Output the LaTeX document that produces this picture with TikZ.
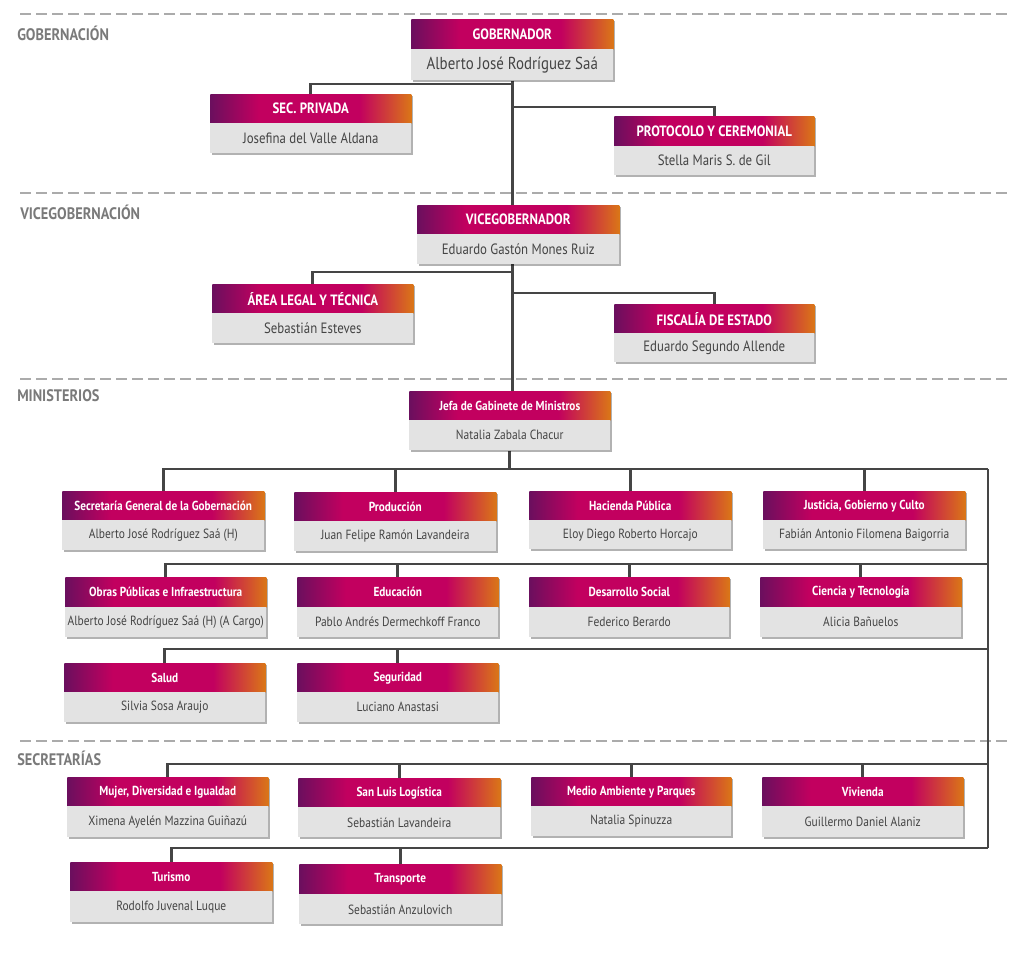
\documentclass[tikz,border=0pt]{standalone}
\usepackage{fontspec}
\setmainfont{PT Sans}[FakeStretch=0.86]
\usetikzlibrary{shadows,backgrounds}
\definecolor{cpurple}{HTML}{6B0F5E}
\definecolor{cmag}{HTML}{C2005F}
\definecolor{corange}{HTML}{DA7617}
\definecolor{bodyfill}{HTML}{E3E3E3}
\definecolor{bodytext}{HTML}{444444}
\definecolor{linec}{HTML}{454545}
\definecolor{dashc}{HTML}{ABABAB}
\definecolor{labelc}{HTML}{7A7A7A}
\pgfdeclarehorizontalshading{hdrshade}{100bp}{color(0bp)=(cpurple); color(25bp)=(cpurple); color(37bp)=(cmag); color(62bp)=(cmag); color(75bp)=(corange); color(100bp)=(corange)}
\tikzset{
  shadowed/.style={drop shadow={shadow xshift=1.4pt, shadow yshift=-1.4pt, opacity=0.3, fill=black}},
  hdr/.style={shadowed, shade, shading=hdrshade, inner sep=0pt, anchor=north west, text=white, font=\bfseries\fontsize{9.8}{11}\selectfont},
  bdy/.style={shadowed, fill=bodyfill, inner sep=0pt, anchor=north west, text=bodytext, font=\fontsize{10}{12}\selectfont},
  tophdr/.style={hdr, font=\bfseries\fontsize{11.2}{13}\selectfont},
  topbdy/.style={bdy, font=\fontsize{11.2}{13}\selectfont},
  conn/.style={draw=linec, line width=2pt},
  sepline/.style={draw=dashc, line width=1.5pt, dash pattern=on 8.25pt off 3.75pt},
  seclabel/.style={text=labelc, font=\bfseries\fontsize{12.5}{15}\selectfont, anchor=base west, inner sep=0pt}
}
% #1 name, #2 x1, #3 ytop, #4 ymid, #5 x2, #6 ybottom, #7 title, #8 person, #9 style prefix
\newcommand{\orgbox}[9]{%
  \node[#9hdr, minimum width={(#5-#2)*0.75pt}, minimum height={(#4-#3)*0.75pt}] (#1h) at (#2,#3) {#7};
  \node[#9bdy, minimum width={(#5-#2)*0.75pt}, minimum height={(#6-#4)*0.75pt}] (#1b) at (#2,#4) {#8};}
\begin{document}
\begin{tikzpicture}[x=0.75pt, y=-0.75pt]
\useasboundingbox (0,0) rectangle (1024,957);

% section labels
\node[seclabel] (lgob) at (17,40) {GOBERNACIÓN};
\node[seclabel] (lvice) at (20,219) {VICEGOBERNACIÓN};
\node[seclabel] (lmin) at (17,401) {MINISTERIOS};
\node[seclabel] (lsec) at (17,765) {SECRETARÍAS};

% top boxes
\orgbox{gob}{411}{19}{49}{613}{80}{GOBERNADOR}{\fontsize{13}{15}\selectfont Alberto José Rodríguez Saá}{top}
\orgbox{secp}{210}{94}{123}{411}{153}{SEC. PRIVADA}{Josefina del Valle Aldana}{top}
\orgbox{proto}{614}{116}{146}{814}{175}{PROTOCOLO Y CEREMONIAL}{Stella Maris S. de Gil}{top}
\orgbox{vice}{417}{205}{234}{619}{264}{VICEGOBERNADOR}{Eduardo Gastón Mones Ruiz}{top}
\orgbox{legal}{212}{284}{313}{413}{343}{ÁREA LEGAL Y TÉCNICA}{Sebastián Esteves}{top}
\orgbox{fisc}{614}{304}{333}{814}{362}{FISCALÍA DE ESTADO}{Eduardo Segundo Allende}{top}
\orgbox{jefa}{409}{391}{420}{610}{450}{Jefa de Gabinete de Ministros}{Natalia Zabala Chacur}{}

% ministerios
\orgbox{ma}{62}{491}{520}{264}{550}{Secretaría General de la Gobernación}{Alberto José Rodríguez Saá (H)}{}
\orgbox{mb}{294}{492}{521}{496}{551}{Producción}{Juan Felipe Ramón Lavandeira}{}
\orgbox{mc}{529}{491}{520}{731}{549}{Hacienda Pública}{Eloy Diego Roberto Horcajo}{}
\orgbox{md}{763}{491}{520}{965}{549}{Justicia, Gobierno y Culto}{Fabián Antonio Filomena Baigorria}{}
\orgbox{me}{65}{577}{607}{266}{637}{Obras Públicas e Infraestructura}{Alberto José Rodríguez Saá (H) (A Cargo)}{}
\orgbox{mf}{297}{577}{607}{498}{637}{Educación}{Pablo Andrés Dermechkoff Franco}{}
\orgbox{mg}{529}{577}{607}{729}{637}{Desarrollo Social}{Federico Berardo}{}
\orgbox{mh}{760}{577}{607}{961}{637}{Ciencia y Tecnología}{Alicia Bañuelos}{}
\orgbox{mi}{64}{663}{692}{265}{722}{Salud}{Silvia Sosa Araujo}{}
\orgbox{mj}{297}{663}{692}{498}{722}{Seguridad}{Luciano Anastasi}{}

% secretarias
\orgbox{sa}{67}{777}{806}{268}{837}{Mujer, Diversidad e Igualdad}{Ximena Ayelén Mazzina Guiñazú}{}
\orgbox{sb}{298}{778}{807}{500}{837}{San Luis Logística}{Sebastián Lavandeira}{}
\orgbox{sc}{531}{777}{806}{731}{836}{Medio Ambiente y Parques}{Natalia Spinuzza}{}
\orgbox{sd}{762}{777}{806}{963}{837}{Vivienda}{Guillermo Daniel Alaniz}{}
\orgbox{se}{70}{862}{891}{272}{922}{Turismo}{Rodolfo Juvenal Luque}{}
\orgbox{sf}{299}{864}{894}{501}{924}{Transporte}{Sebastián Anzulovich}{}

\coordinate (r1) at (988,469);
\coordinate (r2) at (988,564);
\coordinate (r3) at (988,649);
\coordinate (r4) at (988,764);
\coordinate (r5) at (988,848);

\begin{pgfonlayer}{background}
% section separators
\draw[sepline] (20,14) -- (1008,14);
\draw[sepline] (20,193) -- (1008,193);
\draw[sepline] (20,379) -- (1008,379);
\draw[sepline] (20,741) -- (1008,741);

% top connectors
\draw[conn] (gobb.south) -- (gobb.south |- jefah.north);
\draw[conn] (secph.north) -- ++(0,-10) -| (gobb.south);
\draw[conn] (protoh.north) -- ++(0,-9) -| (gobb.south);
\draw[conn] (legalh.north) -- ++(0,-12) -| (gobb.south);
\draw[conn] (fisch.north) -- ++(0,-11) -| (gobb.south);

% ministerios bus
\draw[conn] (jefab.south) -- (jefab.south |- r1);
\draw[conn] (r1) -- (r5);
\draw[conn] (mah.north) |- (r1);
\draw[conn] (mbh.north) -- (mbh.north |- r1);
\draw[conn] (mch.north) -- (mch.north |- r1);
\draw[conn] (mdh.north) -- (mdh.north |- r1);
\draw[conn] (meh.north) |- (r2);
\draw[conn] (mfh.north) -- (mfh.north |- r2);
\draw[conn] (mgh.north) -- (mgh.north |- r2);
\draw[conn] (mhh.north) -- (mhh.north |- r2);
\draw[conn] (mih.north) |- (r3);
\draw[conn] (mjh.north) -- (mjh.north |- r3);
\draw[conn] (sah.north) |- (r4);
\draw[conn] (sbh.north) -- (sbh.north |- r4);
\draw[conn] (sch.north) -- (sch.north |- r4);
\draw[conn] (sdh.north) -- (sdh.north |- r4);
\draw[conn] (seh.north) |- (r5);
\draw[conn] (sfh.north) -- (sfh.north |- r5);
\end{pgfonlayer}
\end{tikzpicture}
\end{document}
